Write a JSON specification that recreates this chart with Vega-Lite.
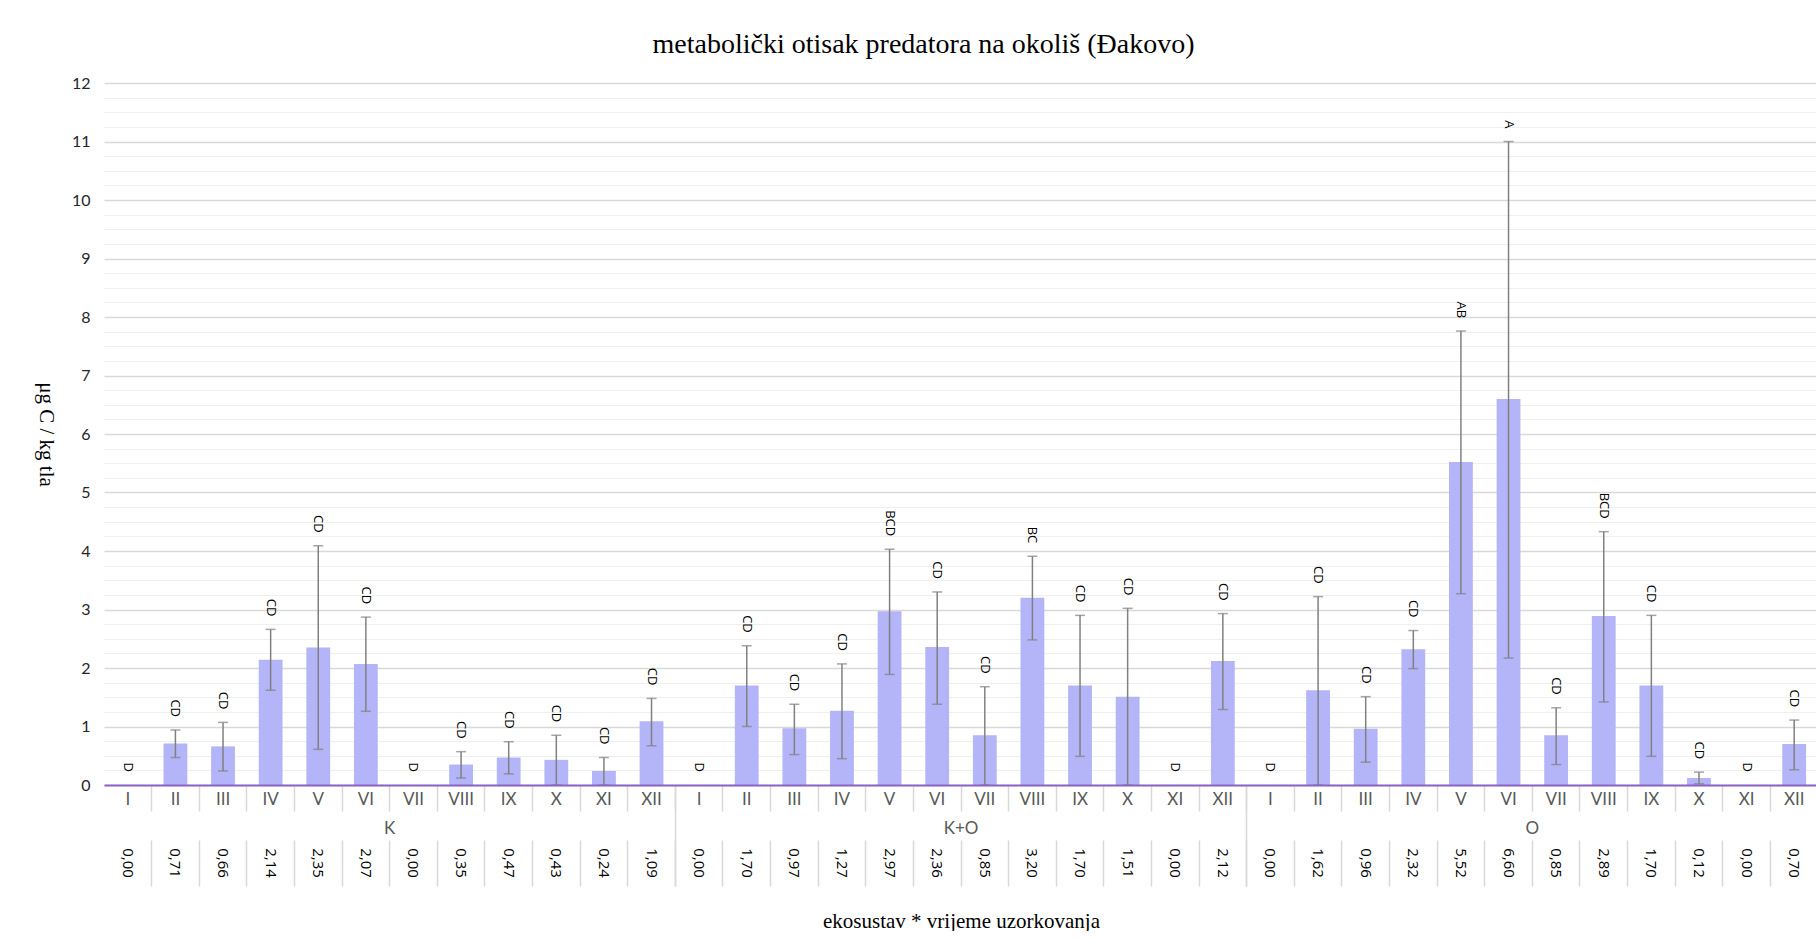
{
  "$schema": "https://vega.github.io/schema/vega-lite/v6.json",
  "autosize": {"type": "pad"},
  "padding": {"left": 35, "top": 31, "right": 0, "bottom": 0},
  "background": "white",
  "bounds": "flush",
  "spacing": 55,
  "config": {
    "locale": {"number": {"decimal": ",", "thousands": ".", "grouping": [3], "currency": ["", " €"]}},
    "view": {"stroke": null}
  },
  "title": {
    "text": "metabolički otisak predatora na okoliš (Đakovo)",
    "font": "Liberation Serif",
    "fontSize": 28,
    "fontWeight": "normal",
    "color": "#000000",
    "anchor": "middle",
    "dx": -3,
    "offset": 16
  },
  "datasets": {
    "d": [
      {"id": "K|I", "value": 0.00, "lo": 0, "hi": 0, "sig": "D"},
      {"id": "K|II", "value": 0.71, "lo": 0.47, "hi": 0.94, "sig": "CD"},
      {"id": "K|III", "value": 0.66, "lo": 0.24, "hi": 1.07, "sig": "CD"},
      {"id": "K|IV", "value": 2.14, "lo": 1.62, "hi": 2.66, "sig": "CD"},
      {"id": "K|V", "value": 2.35, "lo": 0.61, "hi": 4.09, "sig": "CD"},
      {"id": "K|VI", "value": 2.07, "lo": 1.26, "hi": 2.87, "sig": "CD"},
      {"id": "K|VII", "value": 0.00, "lo": 0, "hi": 0, "sig": "D"},
      {"id": "K|VIII", "value": 0.35, "lo": 0.12, "hi": 0.57, "sig": "CD"},
      {"id": "K|IX", "value": 0.47, "lo": 0.19, "hi": 0.74, "sig": "CD"},
      {"id": "K|X", "value": 0.43, "lo": 0, "hi": 0.85, "sig": "CD"},
      {"id": "K|XI", "value": 0.24, "lo": 0, "hi": 0.47, "sig": "CD"},
      {"id": "K|XII", "value": 1.09, "lo": 0.67, "hi": 1.48, "sig": "CD"},
      {"id": "K+O|I", "value": 0.00, "lo": 0, "hi": 0, "sig": "D"},
      {"id": "K+O|II", "value": 1.70, "lo": 1.00, "hi": 2.38, "sig": "CD"},
      {"id": "K+O|III", "value": 0.97, "lo": 0.52, "hi": 1.38, "sig": "CD"},
      {"id": "K+O|IV", "value": 1.27, "lo": 0.45, "hi": 2.07, "sig": "CD"},
      {"id": "K+O|V", "value": 2.97, "lo": 1.89, "hi": 4.03, "sig": "BCD"},
      {"id": "K+O|VI", "value": 2.36, "lo": 1.38, "hi": 3.30, "sig": "CD"},
      {"id": "K+O|VII", "value": 0.85, "lo": 0, "hi": 1.68, "sig": "CD"},
      {"id": "K+O|VIII", "value": 3.20, "lo": 2.48, "hi": 3.91, "sig": "BC"},
      {"id": "K+O|IX", "value": 1.70, "lo": 0.49, "hi": 2.90, "sig": "CD"},
      {"id": "K+O|X", "value": 1.51, "lo": 0, "hi": 3.02, "sig": "CD"},
      {"id": "K+O|XI", "value": 0.00, "lo": 0, "hi": 0, "sig": "D"},
      {"id": "K+O|XII", "value": 2.12, "lo": 1.29, "hi": 2.93, "sig": "CD"},
      {"id": "O|I", "value": 0.00, "lo": 0, "hi": 0, "sig": "D"},
      {"id": "O|II", "value": 1.62, "lo": 0, "hi": 3.22, "sig": "CD"},
      {"id": "O|III", "value": 0.96, "lo": 0.39, "hi": 1.51, "sig": "CD"},
      {"id": "O|IV", "value": 2.32, "lo": 1.99, "hi": 2.64, "sig": "CD"},
      {"id": "O|V", "value": 5.52, "lo": 3.27, "hi": 7.76, "sig": "AB"},
      {"id": "O|VI", "value": 6.60, "lo": 2.17, "hi": 11.0, "sig": "A"},
      {"id": "O|VII", "value": 0.85, "lo": 0.35, "hi": 1.32, "sig": "CD"},
      {"id": "O|VIII", "value": 2.89, "lo": 1.42, "hi": 4.33, "sig": "BCD"},
      {"id": "O|IX", "value": 1.70, "lo": 0.49, "hi": 2.90, "sig": "CD"},
      {"id": "O|X", "value": 0.12, "lo": 0.02, "hi": 0.22, "sig": "CD"},
      {"id": "O|XI", "value": 0.00, "lo": 0, "hi": 0, "sig": "D"},
      {"id": "O|XII", "value": 0.70, "lo": 0.26, "hi": 1.11, "sig": "CD"}
    ]
  },
  "vconcat": [
    {
      "width": 1714,
      "height": 702,
      "data": {"name": "d"},
      "resolve": {"axis": {"x": "independent", "y": "independent"}},
      "layer": [
        {
          "mark": {"type": "bar", "width": {"band": 0.5}, "color": "#b4b4f8"},
          "encoding": {
            "x": {
              "field": "id", "type": "nominal", "sort": null,
              "scale": {"type": "band", "paddingInner": 0, "paddingOuter": 0},
              "axis": {
                "orient": "bottom", "title": null, "zindex": 1,
                "labelExpr": "split(datum.value, '|')[1]",
                "labelAngle": 0, "labelFont": "Lato", "labelFontSize": 17, "labelColor": "#595959",
                "labelPadding": 6, "labelOverlap": false, "labelBound": false, "labelFlush": false,
                "ticks": false, "grid": false,
                "domain": true, "domainColor": "#8b63c6", "domainWidth": 2
              }
            },
            "y": {
              "field": "value", "type": "quantitative",
              "scale": {"domain": [0, 12], "nice": false, "zero": true},
              "axis": {
                "orient": "left",
                "values": [0, 1, 2, 3, 4, 5, 6, 7, 8, 9, 10, 11, 12],
                "grid": true, "gridColor": "#d9d9d9", "gridWidth": 1.5,
                "ticks": false, "domain": false,
                "labelFont": "Lato", "labelFontSize": 16, "labelColor": "#262626", "labelPadding": 14,
                "title": "μg C / kg tla",
                "titleFont": "Liberation Serif", "titleFontSize": 21, "titleFontWeight": "normal", "titleColor": "#000000",
                "titleAngle": 90, "titleX": -59, "titleY": 351, "titleBaseline": "middle", "titleAlign": "center"
              }
            }
          }
        },
        {
          "transform": [{"filter": "datum.hi > datum.lo"}],
          "mark": {"type": "rule", "color": "#808080", "strokeWidth": 1.5},
          "encoding": {
            "x": {
              "field": "id", "type": "nominal", "sort": null,
              "axis": {
                "orient": "bottom", "title": null, "labels": false, "domain": false, "grid": false,
                "ticks": true, "bandPosition": 0, "tickSize": 26, "tickColor": "#d9d9d9", "tickWidth": 1.5,
                "values": ["K|II","K|III","K|IV","K|V","K|VI","K|VII","K|VIII","K|IX","K|X","K|XI","K|XII","K+O|I","K+O|II","K+O|III","K+O|IV","K+O|V","K+O|VI","K+O|VII","K+O|VIII","K+O|IX","K+O|X","K+O|XI","K+O|XII","O|I","O|II","O|III","O|IV","O|V","O|VI","O|VII","O|VIII","O|IX","O|X","O|XI","O|XII"]
              }
            },
            "y": {
              "field": "lo", "type": "quantitative",
              "axis": {
                "orient": "left", "title": null, "labels": false, "ticks": false, "domain": false,
                "grid": true, "gridColor": "#efefef", "gridWidth": 1,
                "values": [0.25, 0.5, 0.75, 1.25, 1.5, 1.75, 2.25, 2.5, 2.75, 3.25, 3.5, 3.75, 4.25, 4.5, 4.75, 5.25, 5.5, 5.75, 6.25, 6.5, 6.75, 7.25, 7.5, 7.75, 8.25, 8.5, 8.75, 9.25, 9.5, 9.75, 10.25, 10.5, 10.75, 11.25, 11.5, 11.75]
              }
            },
            "y2": {"field": "hi"}
          }
        },
        {
          "transform": [{"filter": "datum.hi > datum.lo"}],
          "mark": {"type": "tick", "color": "#808080", "thickness": 1.5, "size": 10},
          "encoding": {
            "x": {
              "field": "id", "type": "nominal", "sort": null,
              "axis": {
                "orient": "bottom", "title": null, "labels": false, "domain": false, "grid": false,
                "ticks": true, "bandPosition": 0, "tickSize": 101, "tickColor": "#d9d9d9", "tickWidth": 1.5,
                "values": ["K+O|I", "O|I"]
              }
            },
            "y": {"field": "lo", "type": "quantitative", "axis": null}
          }
        },
        {
          "transform": [{"filter": "datum.hi > datum.lo"}],
          "mark": {"type": "tick", "color": "#808080", "thickness": 1.5, "size": 10},
          "encoding": {
            "x": {"field": "id", "type": "nominal", "sort": null, "axis": null},
            "y": {"field": "hi", "type": "quantitative", "axis": null}
          }
        },
        {
          "mark": {"type": "text", "angle": 90, "align": "right", "baseline": "middle", "yOffset": -13, "font": "Open Sans", "fontSize": 13, "color": "#000000"},
          "encoding": {
            "x": {
              "field": "id", "type": "nominal", "sort": null,
              "axis": {
                "orient": "bottom", "title": null, "ticks": false, "domain": false, "grid": false,
                "values": ["K|VI", "K+O|VI", "O|VI"],
                "labelExpr": "split(datum.value, '|')[0]",
                "labelOffset": 23.8, "labelPadding": 35, "labelAngle": 0,
                "labelFont": "Lato", "labelFontSize": 17, "labelColor": "#595959",
                "labelOverlap": false, "labelBound": false, "labelFlush": false
              }
            },
            "y": {"field": "hi", "type": "quantitative", "axis": null},
            "text": {"field": "sig"}
          }
        }
      ]
    },
    {
      "width": 1714,
      "height": 46,
      "data": {"name": "d"},
      "mark": {"type": "text", "angle": 90, "align": "center", "baseline": "middle", "font": "Open Sans", "fontSize": 15, "color": "#000000"},
      "encoding": {
        "x": {
          "field": "id", "type": "nominal", "sort": null,
          "scale": {"type": "band", "paddingInner": 0, "paddingOuter": 0},
          "axis": {
            "orient": "bottom", "labels": false, "ticks": false, "domain": false,
            "grid": true, "gridColor": "#d9d9d9", "gridWidth": 1.5, "bandPosition": 0,
            "values": ["K|II","K|III","K|IV","K|V","K|VI","K|VII","K|VIII","K|IX","K|X","K|XI","K|XII","K+O|I","K+O|II","K+O|III","K+O|IV","K+O|V","K+O|VI","K+O|VII","K+O|VIII","K+O|IX","K+O|X","K+O|XI","K+O|XII","O|I","O|II","O|III","O|IV","O|V","O|VI","O|VII","O|VIII","O|IX","O|X","O|XI","O|XII"],
            "title": "ekosustav * vrijeme uzorkovanja",
            "titleFont": "Liberation Serif", "titleFontSize": 21, "titleFontWeight": "normal", "titleColor": "#000000",
            "titlePadding": 24
          }
        },
        "text": {"field": "value", "type": "quantitative", "format": ".2f"}
      }
    }
  ]
}
